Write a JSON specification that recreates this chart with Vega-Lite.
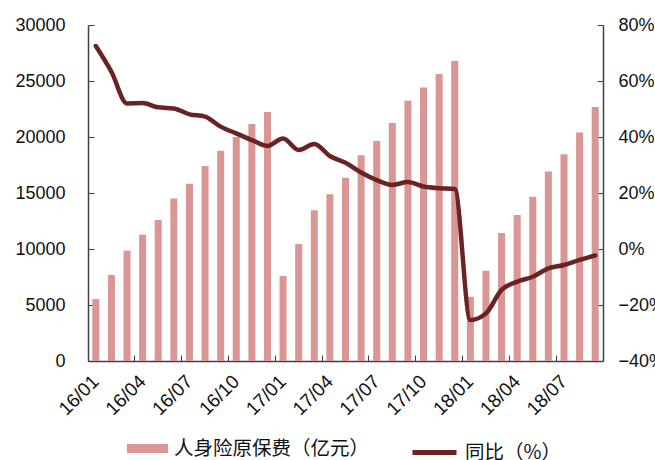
{
  "$schema": "https://vega.github.io/schema/vega-lite/v6.json",
  "width": 515,
  "height": 336,
  "autosize": {"type": "none"},
  "padding": {"left": 88, "top": 25, "right": 52, "bottom": 99},
  "background": "white",
  "config": {
    "view": {"stroke": null},
    "axis": {
      "grid": false,
      "domainColor": "#404040",
      "tickColor": "#404040",
      "labelColor": "#111111",
      "labelFont": "Liberation Sans",
      "labelFontSize": 18,
      "titleFontSize": 0
    }
  },
  "data": {
    "values": [
      {"m": "16/01", "premium": 5530, "yoy": 72.5},
      {"m": "16/02", "premium": 7680, "yoy": 63.3},
      {"m": "16/03", "premium": 9850, "yoy": 52.0},
      {"m": "16/04", "premium": 11280, "yoy": 52.1},
      {"m": "16/05", "premium": 12590, "yoy": 50.6},
      {"m": "16/06", "premium": 14520, "yoy": 50.2},
      {"m": "16/07", "premium": 15830, "yoy": 48.1},
      {"m": "16/08", "premium": 17400, "yoy": 47.3},
      {"m": "16/09", "premium": 18780, "yoy": 43.7},
      {"m": "16/10", "premium": 20000, "yoy": 41.3},
      {"m": "16/11", "premium": 21160, "yoy": 38.9},
      {"m": "16/12", "premium": 22230, "yoy": 36.8},
      {"m": "17/01", "premium": 7590, "yoy": 39.5},
      {"m": "17/02", "premium": 10450, "yoy": 35.4},
      {"m": "17/03", "premium": 13450, "yoy": 37.5},
      {"m": "17/04", "premium": 14880, "yoy": 33.2},
      {"m": "17/05", "premium": 16370, "yoy": 30.8},
      {"m": "17/06", "premium": 18360, "yoy": 27.3},
      {"m": "17/07", "premium": 19640, "yoy": 24.6},
      {"m": "17/08", "premium": 21250, "yoy": 22.9},
      {"m": "17/09", "premium": 23240, "yoy": 23.9},
      {"m": "17/10", "premium": 24430, "yoy": 22.3},
      {"m": "17/11", "premium": 25630, "yoy": 21.7},
      {"m": "17/12", "premium": 26790, "yoy": 21.4},
      {"m": "18/01", "premium": 5740, "yoy": -25.4},
      {"m": "18/02", "premium": 8060, "yoy": -23.0},
      {"m": "18/03", "premium": 11430, "yoy": -14.6},
      {"m": "18/04", "premium": 13040, "yoy": -11.7},
      {"m": "18/05", "premium": 14670, "yoy": -9.9},
      {"m": "18/06", "premium": 16930, "yoy": -6.9},
      {"m": "18/07", "premium": 18450, "yoy": -5.7},
      {"m": "18/08", "premium": 20410, "yoy": -3.9},
      {"m": "18/09", "premium": 22680, "yoy": -2.3}
    ]
  },
  "encoding": {
    "x": {
      "field": "m",
      "type": "ordinal",
      "sort": null,
      "scale": {"paddingInner": 0, "paddingOuter": 0},
      "axis": {
        "title": null,
        "values": ["16/01", "16/04", "16/07", "16/10", "17/01", "17/04", "17/07", "17/10", "18/01", "18/04", "18/07"],
        "bandPosition": 0,
        "labelAngle": -45,
        "labelAlign": "right",
        "labelBaseline": "middle",
        "labelDx": 9,
        "labelPadding": 23,
        "tickSize": -6,
        "labelFontSize": 19,
        "domainWidth": 1.5,
        "labelOverlap": false
      }
    }
  },
  "layer": [
    {
      "mark": {"type": "bar", "width": {"band": 0.45}},
      "encoding": {
        "y": {
          "field": "premium",
          "type": "quantitative",
          "scale": {"domain": [0, 30000], "nice": false},
          "axis": {
            "title": null,
            "values": [0, 5000, 10000, 15000, 20000, 25000, 30000],
            "format": "d",
            "tickSize": -6,
            "labelPadding": 29,
            "domainWidth": 1.5
          }
        },
        "fill": {
          "datum": "人身险原保费（亿元）",
          "type": "nominal",
          "scale": {"range": ["#d99694"]},
          "legend": {
            "title": null,
            "orient": "none",
            "legendX": 39,
            "legendY": 403,
            "symbolType": "M-1,-0.22H1V0.22H-1Z",
            "symbolSize": 1681,
            "symbolStrokeWidth": 0,
            "labelFont": "Noto Sans CJK SC",
            "labelFontSize": 19.5,
            "labelColor": "#111111",
            "labelOffset": 6,
            "labelLimit": 400
          }
        }
      }
    },
    {
      "mark": {"type": "line", "color": "#6a2222", "strokeWidth": 4.5, "interpolate": "monotone", "strokeCap": "round"},
      "encoding": {
        "y": {
          "field": "yoy",
          "type": "quantitative",
          "scale": {"domain": [-40, 80], "nice": false},
          "axis": {
            "orient": "right",
            "title": null,
            "values": [-40, -20, 0, 20, 40, 60, 80],
            "labelExpr": "replace(datum.value + '%', '-', '−')",
            "tickSize": -6,
            "labelPadding": 21,
            "domainWidth": 1.5
          }
        },
        "stroke": {
          "datum": "同比（%）",
          "type": "nominal",
          "scale": {"range": ["#6a2222"]},
          "legend": {
            "title": null,
            "orient": "none",
            "legendX": 322,
            "legendY": 403,
            "symbolType": "stroke",
            "symbolSize": 1936,
            "symbolStrokeWidth": 5,
            "labelFont": "Noto Sans CJK SC",
            "labelFontSize": 19.5,
            "labelColor": "#111111",
            "labelOffset": 6,
            "labelLimit": 400
          }
        }
      }
    }
  ],
  "resolve": {"scale": {"y": "independent", "fill": "independent", "stroke": "independent"}}
}
